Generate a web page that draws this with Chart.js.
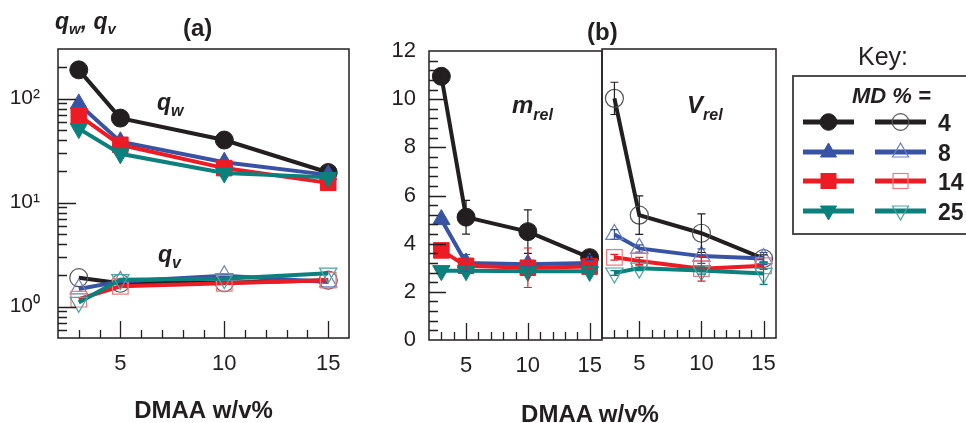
<!DOCTYPE html>
<html lang="en">
<head>
<meta charset="UTF-8">
<title>DMAA series</title>
<script src="https://cdn.jsdelivr.net/npm/chart.js"></script>
<style>
  body { margin: 0; background: #fff; }
  #wrap { position: relative; width: 966px; height: 423px; overflow: hidden; font-family: 'Liberation Sans', Arial, sans-serif; }
  canvas { position: absolute; left: 0; top: 0; }
  svg { position: absolute; left: 0; top: 0; }
  svg text { font-family: 'Liberation Sans', Arial, sans-serif; fill: #231f20; }
</style>
</head>
<body>
<div id="wrap">
  <canvas id="chartA" width="966" height="423"></canvas>
  <canvas id="chartM" width="966" height="423"></canvas>
  <canvas id="chartV" width="966" height="423"></canvas>
  <svg id="notes" width="966" height="423">
    <text x="55" y="28.5" font-size="23" font-weight="bold" font-style="italic">q<tspan dy="5" font-size="15">w</tspan><tspan dy="-5">, q</tspan><tspan dy="5" font-size="15">v</tspan></text>
    <text x="183" y="36" font-size="24" font-weight="bold">(a)</text>
    <text x="587" y="40" font-size="24" font-weight="bold">(b)</text>
    <text x="858" y="65" font-size="25">Key:</text>
    <text x="157" y="110" font-size="23" font-weight="bold" font-style="italic">q<tspan dy="6" font-size="16">w</tspan></text>
    <text x="158" y="262" font-size="23" font-weight="bold" font-style="italic">q<tspan dy="6" font-size="16">v</tspan></text>
    <text x="512" y="113" font-size="24" font-weight="bold" font-style="italic">m<tspan dy="7" font-size="16">rel</tspan></text>
    <text x="687" y="113" font-size="24" font-weight="bold" font-style="italic">V<tspan dy="7" font-size="16">rel</tspan></text>
    <text x="590" y="421.5" font-size="24" font-weight="bold" text-anchor="middle">DMAA w/v%</text>
    <rect x="793" y="76" width="200" height="158" fill="none" stroke="#4d4d4d" stroke-width="2"/>
    <text x="852" y="103" font-size="22" font-weight="bold" font-style="italic">MD % =</text>
    <g id="keyRows"></g>
  </svg>
</div>

<script>
// ---- data ----
const xVals = [3, 5, 10, 15];          // DMAA w/v%
const xTickVals = [5, 10, 15];
const mdLabels = ['4', '8', '14', '25']; // MD %

// (a) q_w (filled markers), q_v (open markers), log scale
const qwBlack = [189, 65, 40, 19.5];
const qwBlue  = [89, 38.5, 24.5, 18.5];
const qwRed   = [69, 36, 21.5, 15.5];
const qwTeal  = [51.5, 29.5, 19.3, 17.5];

const qvBlack = [1.9, 1.68, 1.7, 1.8];
const qvBlue  = [1.48, 1.75, 1.98, 1.73];
const qvRed   = [1.18, 1.57, 1.68, 1.8];
const qvTeal  = [1.1, 1.82, 1.86, 2.1];

const yTicksA  = [1, 10, 100];
const yLabelsA = ['10\u2070', '10\u00b9', '10\u00b2'];

// (b) m_rel and V_rel with error bars
const mBlack = [10.95, 5.1, 4.5, 3.42];
const mBlue  = [5.0, 3.2, 3.15, 3.2];
const mRed   = [3.72, 3.08, 3.0, 3.05];
const mTeal  = [2.88, 2.88, 2.85, 2.85];
const mBlackErr = [0.3, 0.7, 0.9, 0.1];
const mBlueErr  = [0, 0.35, 0.1, 0.1];
const mRedErr   = [0, 0.15, 0.82, 0.1];
const mTealErr  = [0, 0, 0.1, 0];

const vBlack = [9.95, 5.1, 4.35, 3.3];
const vBlue  = [4.3, 3.72, 3.4, 3.3];
const vRed   = [3.35, 3.2, 2.88, 3.0];
const vTeal  = [2.7, 2.9, 2.8, 2.68];
const vBlackErr = [0.67, 0.8, 0.8, 0.15];
const vBlueErr  = [0.2, 0.15, 0.3, 0.25];
const vRedErr   = [0.12, 0.15, 0.52, 0.15];
const vTealErr  = [0.1, 0.1, 0.15, 0.45];

const yTicksB = [0, 2, 4, 6, 8, 10, 12];

// ---- styles ----
const ink = '#231f20';
const colors = ['#231f20', '#3953a4', '#ed1c24', '#0b807c'];
const openColors = ['#555555', '#6b80c4', '#f07a80', '#4aa6a2'];
const markers = [
  { style: 'circle', rot: 0, r: 9 },
  { style: 'triangle', rot: 0, r: 10 },
  { style: 'rect', rot: 0, r: 11 },
  { style: 'triangle', rot: 180, r: 10 }
];
const font = "'Liberation Sans', Arial, sans-serif";

function series(vals, k, open, errs) {
  const m = markers[k];
  return {
    data: xVals.map((x, i) => ({ x: x, y: vals[i] })),
    borderColor: colors[k],
    borderWidth: 4,
    tension: 0,
    pointStyle: m.style,
    pointRotation: m.rot,
    pointRadius: m.r,
    pointBackgroundColor: open ? 'rgba(0,0,0,0)' : colors[k],
    pointBorderColor: open ? openColors[k] : colors[k],
    pointBorderWidth: open ? 1.2 : 1,
    order: 4 - k,
    errors: errs || null
  };
}

// box, inward ticks and error bars
function framePlugin(yMarks, yMajorLen) {
  return {
    id: 'frame',
    afterDatasetsDraw(chart) {
      const { ctx, scales } = chart;
      chart.data.datasets.forEach(ds => {
        if (!ds.errors) return;
        ctx.save();
        ctx.strokeStyle = ds.borderColor;
        ctx.lineWidth = 1.2;
        ds.data.forEach((p, i) => {
          const e = ds.errors[i];
          if (!e) return;
          const px = scales.x.getPixelForValue(p.x);
          const t = scales.y.getPixelForValue(p.y + e);
          const b = scales.y.getPixelForValue(p.y - e);
          ctx.beginPath();
          ctx.moveTo(px, t); ctx.lineTo(px, b);
          ctx.moveTo(px - 4, t); ctx.lineTo(px + 4, t);
          ctx.moveTo(px - 4, b); ctx.lineTo(px + 4, b);
          ctx.stroke();
        });
        ctx.restore();
      });
    },
    afterDraw(chart) {
      const { ctx, chartArea: a, scales } = chart;
      ctx.save();
      ctx.strokeStyle = ink;
      ctx.lineWidth = 1.5;
      ctx.strokeRect(a.left, a.top, a.right - a.left, a.bottom - a.top);
      ctx.lineWidth = 1.3;
      ctx.beginPath();
      for (let v = 3; v <= 15; v++) {
        const px = Math.round(scales.x.getPixelForValue(v)) + 0.5;
        const len = v % 5 === 0 ? 17 : 8;
        ctx.moveTo(px, a.bottom);
        ctx.lineTo(px, a.bottom - len);
      }
      (yMarks || []).forEach(m => {
        const py = Math.round(scales.y.getPixelForValue(m.v)) + 0.5;
        ctx.moveTo(a.left, py);
        ctx.lineTo(a.left + (m.major ? yMajorLen : 9), py);
      });
      ctx.stroke();
      ctx.restore();
    }
  };
}

function xScale(area, title) {
  return {
    type: 'linear', min: 2, max: 16,
    grid: { display: false, drawTicks: false },
    border: { display: false },
    ticks: { font: { family: font, size: 22 }, color: ink, padding: 13, autoSkip: false, maxRotation: 0 },
    afterBuildTicks: s => { s.ticks = xTickVals.map(v => ({ value: v })); },
    afterFit: s => { s.height = 423 - area.bottom; },
    title: title
      ? { display: true, text: title, color: ink, padding: 0, font: { family: font, size: 24, weight: 'bold', lineHeight: 1 } }
      : { display: false }
  };
}

function makeChart(id, datasets, area, yScale, yMarks, yMajorLen, title) {
  yScale.afterFit = s => { s.width = area.left; };
  return new Chart(document.getElementById(id), {
    type: 'line',
    data: { datasets: datasets },
    options: {
      responsive: false,
      animation: false,
      events: [],
      layout: { padding: { left: 0, top: area.top, right: 966 - area.right, bottom: 0 } },
      plugins: { legend: { display: false }, tooltip: { enabled: false } },
      scales: { x: xScale(area, title), y: yScale }
    },
    plugins: [framePlugin(yMarks, yMajorLen)]
  });
}

// minor tick positions for the axes
const logMarks = [];
[0.1, 1, 10, 100].forEach(d => {
  for (let m = 1; m <= 9; m++) {
    const v = m * d;
    if (v > 0.5 && v < 300) logMarks.push({ v: v, major: m === 1 });
  }
});
const linMarks = [];
for (let k = 1; k < 30; k++) linMarks.push({ v: k * 0.4, major: k % 5 === 0 });

// (a)
makeChart('chartA', [
  series(qwBlack, 0, false), series(qwBlue, 1, false), series(qwRed, 2, false), series(qwTeal, 3, false),
  series(qvBlack, 0, true), series(qvBlue, 1, true), series(qvRed, 2, true), series(qvTeal, 3, true)
], { left: 58, right: 349, top: 49, bottom: 338 }, {
  type: 'logarithmic', min: 0.5, max: 300,
  grid: { display: false, drawTicks: false },
  border: { display: false },
  ticks: {
    font: { family: font, size: 21 }, color: ink, padding: 18, autoSkip: false,
    callback: v => yLabelsA[yTicksA.indexOf(v)] || ''
  },
  afterBuildTicks: s => { s.ticks = yTicksA.map(v => ({ value: v })); }
}, logMarks, 18, 'DMAA w/v%');

// (b) left: m_rel
makeChart('chartM', [
  series(mBlack, 0, false, mBlackErr), series(mBlue, 1, false, mBlueErr),
  series(mRed, 2, false, mRedErr), series(mTeal, 3, false, mTealErr)
], { left: 429, right: 602, top: 51, bottom: 340 }, {
  type: 'linear', min: 0, max: 12,
  grid: { display: false, drawTicks: false },
  border: { display: false },
  ticks: { font: { family: font, size: 22 }, color: ink, padding: 13, autoSkip: false },
  afterBuildTicks: s => { s.ticks = yTicksB.map(v => ({ value: v })); }
}, linMarks, 17, null);

// (b) right: V_rel
makeChart('chartV', [
  series(vBlack, 0, true, vBlackErr), series(vBlue, 1, true, vBlueErr),
  series(vRed, 2, true, vRedErr), series(vTeal, 3, true, vTealErr)
], { left: 602, right: 776, top: 49, bottom: 338 }, {
  type: 'linear', min: 0, max: 12,
  grid: { display: false, drawTicks: false },
  border: { display: false },
  ticks: { display: false }
}, null, 17, null);

// key rows
const ns = 'http://www.w3.org/2000/svg';
const g = document.getElementById('keyRows');
const rowY = [122, 152, 181, 211];
function el(tag, attrs) {
  const e = document.createElementNS(ns, tag);
  for (const k in attrs) e.setAttribute(k, attrs[k]);
  g.appendChild(e);
  return e;
}
function keyMarker(k, cx, cy, open) {
  const fill = open ? 'none' : colors[k];
  const stroke = open ? openColors[k] : colors[k];
  const sw = open ? 1.2 : 1;
  if (k === 0) el('circle', { cx: cx, cy: cy, r: 8.3, fill: fill, stroke: stroke, 'stroke-width': sw });
  if (k === 2) el('rect', { x: cx - 7.5, y: cy - 7.5, width: 15, height: 15, fill: fill, stroke: stroke, 'stroke-width': sw });
  if (k === 1 || k === 3) {
    const s = k === 1 ? 1 : -1;
    const pts = [[cx, cy - 9 * s], [cx - 8, cy + 5 * s], [cx + 8, cy + 5 * s]].map(p => p.join(',')).join(' ');
    el('polygon', { points: pts, fill: fill, stroke: stroke, 'stroke-width': sw });
  }
}
mdLabels.forEach((lab, k) => {
  const y = rowY[k];
  el('line', { x1: 803, x2: 854, y1: y, y2: y, stroke: colors[k], 'stroke-width': 5 });
  keyMarker(k, 828.5, y, false);
  el('line', { x1: 875, x2: 926, y1: y, y2: y, stroke: colors[k], 'stroke-width': 5 });
  keyMarker(k, 900.5, y, true);
  const t = el('text', { x: 938, y: y + 9, 'font-size': 23, 'font-weight': 'bold' });
  t.textContent = lab;
});
</script>
</body>
</html>
